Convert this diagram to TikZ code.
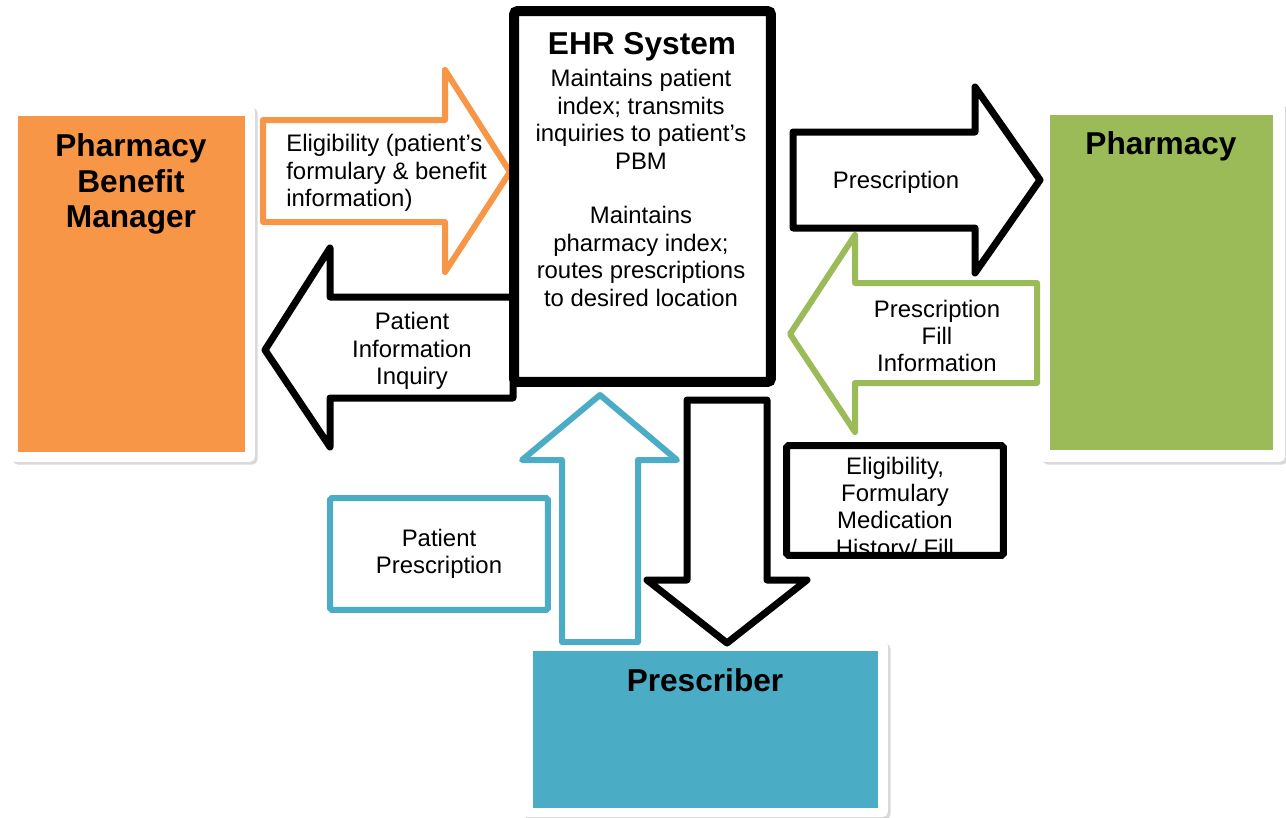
\documentclass[tikz,border=0pt]{standalone}
\usepackage{fontspec}
\setmainfont{Liberation Sans}
\usetikzlibrary{positioning, shadows}
\definecolor{pbmorange}{RGB}{247,150,70}
\definecolor{rxgreen}{RGB}{155,187,89}
\definecolor{docblue}{RGB}{75,172,198}

\begin{document}
\begin{tikzpicture}[x=0.02cm, y=-0.02cm,
  card/.style={fill=white, rounded corners=3pt, inner sep=0pt,
               drop shadow={shadow xshift=1.5pt, shadow yshift=-1.5pt, opacity=0.3}},
  panel/.style={inner sep=0pt},
  blockarrow/.style={fill=white, line width=0.14cm, line join=round},
  lbl/.style={font=\fontsize{13.6}{15.6}\selectfont, align=center, inner sep=0pt},
  ttl/.style={font=\fontsize{18}{20.4}\selectfont\bfseries, align=center, inner sep=0pt},
]
\useasboundingbox (0,0) rectangle (1286,818);

% entity cards
\node[card, minimum width=4.9cm, minimum height=7.14cm] (pbmcard) at (132.5,283.5) {};
\node[panel, fill=pbmorange, minimum width=4.54cm, minimum height=6.72cm] (pbm) at (131.5,284) {};
\node[ttl] (pbmtitle) at (131,184) {Pharmacy\\Benefit\\Manager};

\node[card, minimum width=4.9cm, minimum height=7.18cm] (pharmcard) at (1162.5,282.5) {};
\node[panel, fill=rxgreen, minimum width=4.46cm, minimum height=6.7cm] (pharm) at (1161.5,282.5) {};
\node[ttl] (pharmtitle) at (1161,146) {Pharmacy};

\node[card, minimum width=7.32cm, minimum height=3.52cm] (prescard) at (705,729) {};
\node[panel, fill=docblue, minimum width=6.9cm, minimum height=3.14cm] (pres) at (705.5,729.5) {};
\node[ttl] (prestitle) at (705,680) {Prescriber};

% block arrows
\draw[blockarrow, draw=pbmorange, line width=0.12cm] (263,120) -- (445,120) -- (445,70) -- (510,172)
  -- (445,272) -- (445,222) -- (263,222) -- cycle;
\node[lbl, align=left, anchor=west] (elig) at (286,173)
  {Eligibility (patient’s\\formulary \& benefit\\information)};

\draw[blockarrow] (513,297) -- (330,297) -- (330,248) -- (265,350)
  -- (330,447) -- (330,398) -- (513,398) -- cycle;
\node[lbl] (inquiry) at (412,351) {Patient\\Information\\Inquiry};

\draw[blockarrow] (793,132) -- (975,132) -- (975,87) -- (1040,180)
  -- (975,273) -- (975,228) -- (793,228) -- cycle;
\node[lbl] (rx) at (896,182) {Prescription};

\draw[blockarrow, draw=rxgreen, line width=0.12cm] (1037,283) -- (855,283) -- (855,235) -- (790,334)
  -- (855,432) -- (855,383) -- (1037,383) -- cycle;
\node[lbl] (fillinfo) at (937,336) {Prescription\\Fill\\Information};

\draw[blockarrow, draw=docblue, line width=0.12cm] (562,642) -- (562,460) -- (522,460) -- (600,395)
  -- (677,460) -- (638,460) -- (638,642) -- cycle;

\draw[blockarrow] (687,400) -- (767,400) -- (767,580) -- (807,580)
  -- (727,643) -- (647,580) -- (687,580) -- cycle;

% EHR hub
\node[draw, fill=white, line width=0.2cm, rounded corners=2pt, minimum width=5.14cm,
  minimum height=7.42cm, drop shadow={shadow xshift=1.5pt, shadow yshift=-1.5pt, opacity=0.3}]
  (ehr) at (642.5,196.5) {};
\node[ttl] (ehrtitle) at (642,47) {EHR System};
\node[lbl] (ehrtext) at (641,188) {Maintains patient\\index; transmits\\inquiries to patient’s\\PBM\\[15.6pt]Maintains\\pharmacy index;\\routes prescriptions\\to desired location};

% side boxes
\node[lbl, draw=docblue, line width=0.12cm, rounded corners=1pt, minimum width=4.36cm,
  minimum height=2.24cm] (patrx) at (439,554) {Patient\\Prescription};

\path node[minimum width=4.32cm, minimum height=2.18cm, inner sep=0pt] (eligbox) at (895,500.5) {};
\begin{scope}
  \clip (eligbox.north west) rectangle (eligbox.south east);
  \node[lbl] (eliginfo) at (895,509) {Eligibility,\\Formulary\\Medication\\History/ Fill};
\end{scope}
\draw[line width=0.14cm, rounded corners=1pt] (eligbox.north west) rectangle (eligbox.south east);
\end{tikzpicture}
\end{document}
